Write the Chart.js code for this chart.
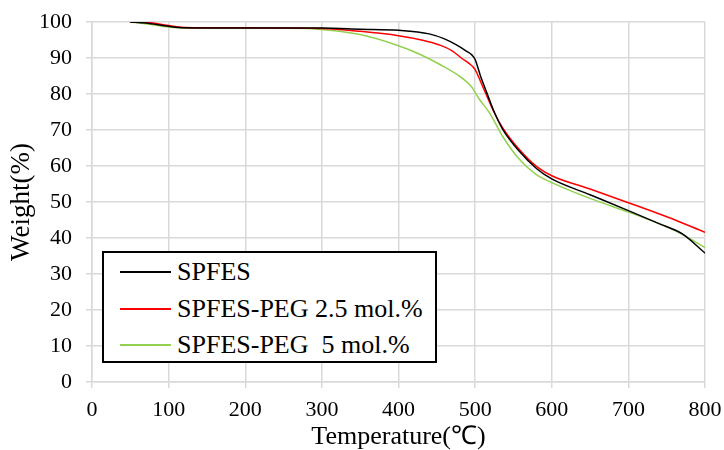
<!DOCTYPE html>
<html>
<head>
<meta charset="utf-8">
<script src="https://cdn.jsdelivr.net/npm/chart.js@4/dist/chart.umd.min.js"></script>
<style>
  html, body { margin: 0; padding: 0; background: #fff; }
  #wrap { position: relative; width: 724px; height: 450px; }
  #legend {
    position: absolute; left: 102px; top: 251px; width: 331px; height: 108px;
    border: 2px solid #000; background: #fff;
    font-family: 'Liberation Serif', 'Times New Roman', serif; font-size: 26px; color: #000;
  }
  .row { position: absolute; left: 0; height: 30px; white-space: pre; }
  .row .ln { position: absolute; left: 16px; width: 51px; height: 2px; top: -1px; }
  .row .tx { position: absolute; left: 73px; top: -15px; line-height: 30px; }
</style>
</head>
<body>
<div id="wrap">
  <canvas id="c" width="724" height="450"></canvas>
  <div id="legend"></div>
</div>
<script>
// ---- Data ----
const seriesNames = ['SPFES', 'SPFES-PEG 2.5 mol.%', 'SPFES-PEG  5 mol.%'];
const seriesColors = ['#000000', '#ff0000', '#92d050'];

const tempSPFES   = [50, 70, 100, 120, 200, 300, 350, 400, 440, 460, 475, 488, 496, 500, 507, 515, 525, 536, 558, 580, 600, 650, 700, 740, 770, 800];
const weightSPFES = [100, 99.7, 98.8, 98.4, 98.3, 98.3, 98.0, 97.7, 96.7, 95.3, 93.7, 92.0, 90.8, 89.6, 85.0, 80.5, 75.0, 70.2, 64.0, 59.3, 56.4, 52.0, 47.6, 44.0, 41.2, 35.8];

const tempPEG25   = [50, 65, 100, 120, 200, 300, 350, 400, 430, 455, 470, 482, 492, 500, 508, 515, 525, 536, 558, 580, 600, 650, 700, 750, 800];
const weightPEG25 = [100, 100, 99.0, 98.5, 98.4, 98.2, 97.4, 96.2, 95.0, 93.5, 92.0, 90.0, 88.5, 86.8, 83.0, 79.6, 74.8, 70.6, 64.5, 59.9, 57.3, 53.6, 49.8, 45.9, 41.6];

const tempPEG5    = [49, 70, 100, 120, 200, 280, 300, 350, 400, 427, 454, 480, 495, 506, 519, 536, 558, 580, 600, 650, 700, 740, 767, 800];
const weightPEG5  = [100, 99.5, 98.6, 98.3, 98.3, 98.2, 97.9, 96.5, 93.4, 91.1, 88.2, 84.9, 82.1, 78.4, 74.7, 68.2, 61.8, 57.6, 55.4, 51.0, 47.2, 44.0, 41.4, 37.3];

const xTitle = 'Temperature(℃)';
const yTitle = 'Weight(%)';

// ---- Build ----
const temps = [tempSPFES, tempPEG25, tempPEG5];
const weights = [weightSPFES, weightPEG25, weightPEG5];
const FONT = "'Liberation Serif', 'Times New Roman', serif";

const datasets = seriesNames.map((name, i) => ({
  label: name,
  data: temps[i].map((t, k) => ({ x: t, y: weights[i][k] })),
  borderColor: seriesColors[i],
  backgroundColor: seriesColors[i],
  borderWidth: 1.5,
  pointRadius: 0,
  fill: false,
  cubicInterpolationMode: 'monotone'
}));

const gridColor = '#d9d9d9';
const zeroPad = (s) => { s.paddingTop = 0; s.paddingBottom = 0; s.paddingLeft = 0; s.paddingRight = 0; };

new Chart(document.getElementById('c'), {
  type: 'line',
  data: { datasets },
  options: {
    responsive: false,
    animation: false,
    layout: { padding: { top: 22, right: 19, left: 0, bottom: 0 } },
    plugins: { legend: { display: false }, tooltip: { enabled: false } },
    scales: {
      x: {
        type: 'linear', min: 0, max: 800,
        ticks: { stepSize: 100, color: '#000', padding: 9, font: { family: FONT, size: 22 } },
        grid: { color: gridColor, lineWidth: 1.5, tickLength: 6, drawTicks: true },
        border: { color: gridColor, width: 1.5 },
        title: { display: true, text: xTitle, color: '#000', font: { family: FONT, size: 26, lineHeight: 1 }, padding: { top: 0, bottom: 0 } },
        afterFit: (s) => { s.height = 68; zeroPad(s); }
      },
      y: {
        type: 'linear', min: 0, max: 100,
        ticks: { stepSize: 10, color: '#000', padding: 14, font: { family: FONT, size: 22 } },
        grid: { color: gridColor, lineWidth: 1.5, tickLength: 6, drawTicks: true },
        border: { color: gridColor, width: 1.5 },
        title: { display: true, text: yTitle, color: '#000', font: { family: FONT, size: 27, lineHeight: 1 }, padding: { top: 8, bottom: 0 } },
        afterFit: (s) => { s.width = 92; zeroPad(s); }
      }
    }
  }
});

// ---- HTML legend ----
const legend = document.getElementById('legend');
const rowTops = [19, 56, 92];
seriesNames.forEach((name, i) => {
  const r = document.createElement('div');
  r.className = 'row';
  r.style.top = rowTops[i] + 'px';
  const ln = document.createElement('div');
  ln.className = 'ln';
  ln.style.backgroundColor = seriesColors[i];
  const tx = document.createElement('div');
  tx.className = 'tx';
  tx.textContent = name;
  r.appendChild(ln);
  r.appendChild(tx);
  legend.appendChild(r);
});
</script>
</body>
</html>
